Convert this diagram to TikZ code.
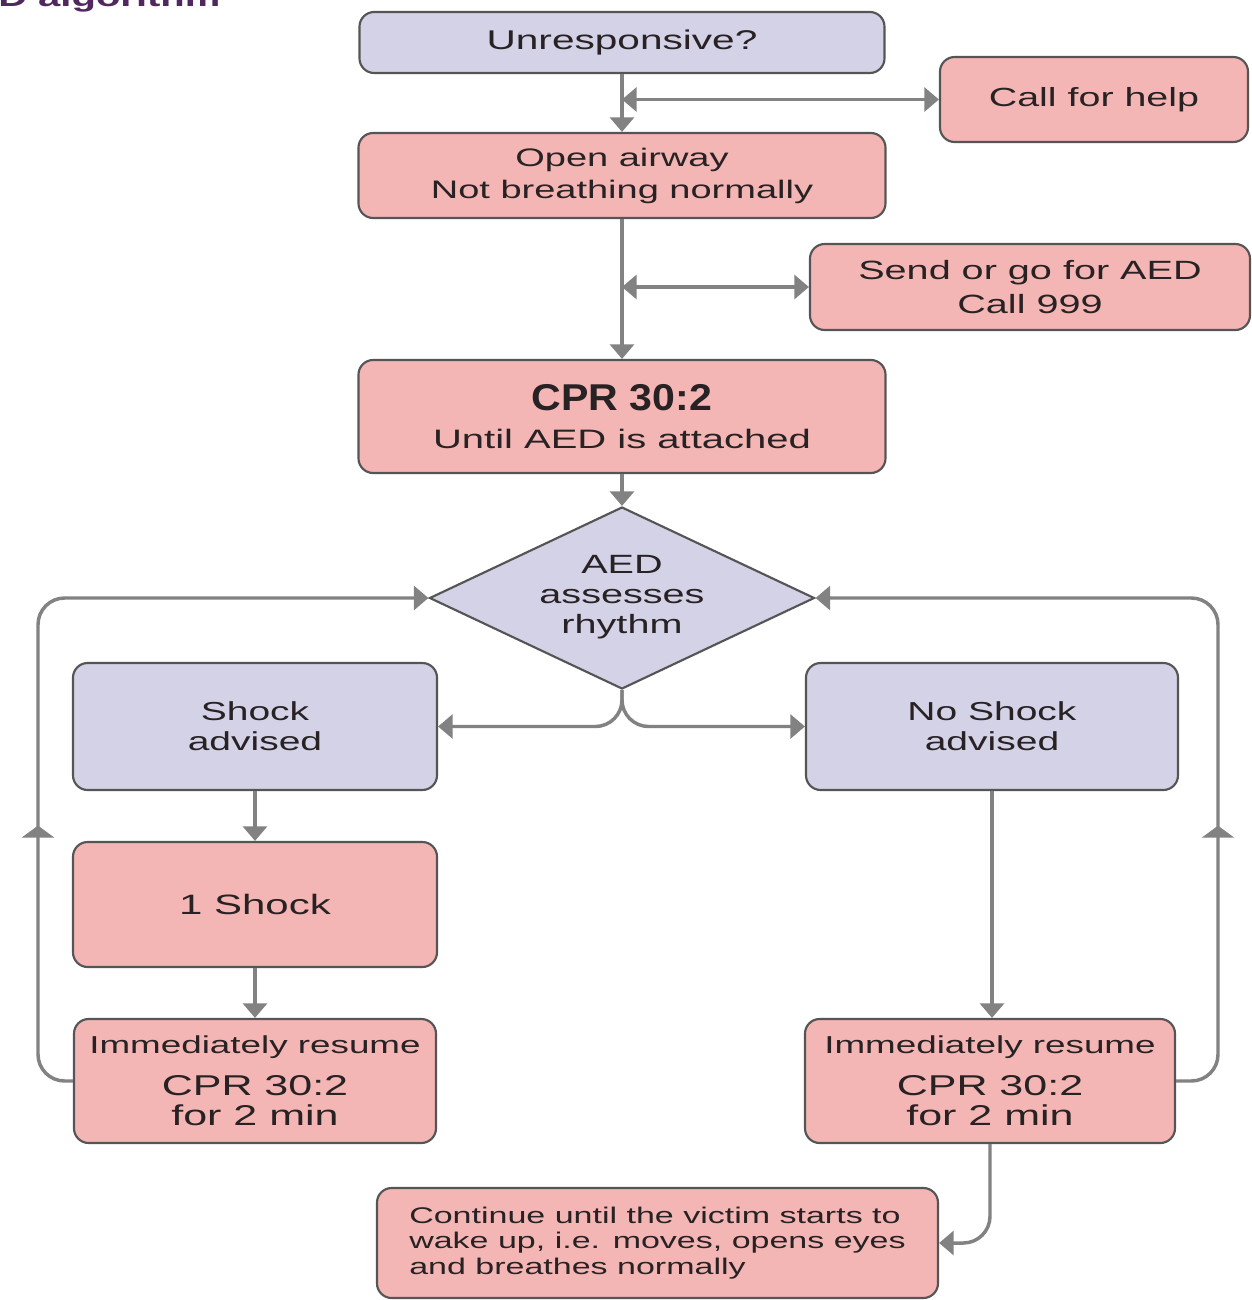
\documentclass[tikz,border=0pt]{standalone}
\usepackage{fontspec}
\setmainfont[FakeStretch=1.5]{Liberation Sans}
\newfontfamily\cprfont[FakeStretch=1.1]{Liberation Sans}
\usetikzlibrary{shapes.geometric,arrows.meta,decorations.markings}
\definecolor{lav}{RGB}{211,210,230}
\definecolor{pinkf}{RGB}{243,182,180}
\definecolor{bord}{RGB}{85,85,85}
\definecolor{lgray}{RGB}{130,130,130}
\definecolor{txt}{RGB}{40,34,36}
\definecolor{titlec}{RGB}{80,40,95}
\newcommand\fsz[2]{\fontsize{#1}{#2}\selectfont}
\begin{document}
\begin{tikzpicture}[x=0.75pt,y=-0.75pt,
  box/.style={draw=bord, line width=1.6pt, rounded corners=11pt, text=txt, align=center, inner sep=0pt},
  lavbox/.style={box, fill=lav},
  pinkbox/.style={box, fill=pinkf},
  wh/.style 2 args={minimum width={#1*0.75pt}, minimum height={#2*0.75pt}},
  conn/.style={draw=lgray, line width=2.6pt},
  arr/.style={conn, -{Triangle[length=11pt,width=18pt]}},
  darr/.style={conn, {Triangle[length=11pt,width=18pt]}-{Triangle[length=11pt,width=18pt]}},
  midup/.style={postaction={decorate}, decoration={markings,
     mark=at position #1 with {\arrow[lgray]{Triangle[length=9pt,width=24pt]}}}}
]
\useasboundingbox (0,0) rectangle (1252,1300);
\fill[white] (0,0) rectangle (1252,1300);

\node[anchor=base west, inner sep=0pt, text=titlec, font=\bfseries\fsz{20}{24}] (title) at (-2,6) {D algorithm};

\node[lavbox, wh={525}{61}, font=\fsz{20.3}{24}] (unr) at (622,42.5) {Unresponsive?};
\node[pinkbox, wh={308}{85}, font=\fsz{19.7}{24}] (help) at (1094,99.5) {Call for help};
\node[pinkbox, wh={527}{85}, font=\fsz{19}{24}] (open) at (622,175.5) {Open airway\\Not breathing normally};
\node[pinkbox, wh={440}{86}, font=\fsz{19.8}{25}] (aed) at (1030,287) {Send or go for AED\\Call 999};
\node[pinkbox, wh={527}{113}, font=\fsz{20}{28}] (cpr) at (622,416.5) {{\cprfont\bfseries\fsz{28}{30}CPR 30:2}\\Until AED is attached};
\node[draw=bord, fill=lav, line width=1.6pt, diamond, minimum width={385*0.75pt}, minimum height={182*0.75pt}, inner sep=0pt] (dia) at (622,598) {};
\node[align=center, text=txt, inner sep=0pt, font=\fsz{19.8}{22.5}] (diat) at (622,597) {AED\\assesses\\rhythm};

\node[lavbox, wh={364}{127}, font=\fsz{19.5}{22.5}] (shock) at (255,726.5) {Shock\\advised};
\node[lavbox, wh={372}{127}, font=\fsz{19.5}{22.5}] (noshock) at (992,726.5) {No Shock\\advised};
\node[pinkbox, wh={364}{125}, font=\fsz{21}{24}] (one) at (255,904.5) {1 Shock};
\node[pinkbox, wh={362}{124}, font=\fsz{21.5}{23}] (resL) at (255,1081) {{\fsz{18.4}{23}Immediately resume}\\[8pt]CPR 30:2\\for 2 min};
\node[pinkbox, wh={370}{124}, font=\fsz{21.5}{23}] (resR) at (990,1081) {{\fsz{18.4}{23}Immediately resume}\\[8pt]CPR 30:2\\for 2 min};
\node[pinkbox, wh={561}{110}, font=\fsz{17}{19}, align=left] (cont) at (657.5,1243) {Continue until the victim starts to\\wake up, i.e. moves, opens eyes\\and breathes normally};

\coordinate (j1) at (unr.south |- help.west);
\coordinate (j2) at (open.south |- aed.west);
\coordinate (lx) at (38,598);
\coordinate (rx) at (1218,598);

\draw[arr] (unr.south) -- (open.north);
\draw[darr] (j1) -- (help.west);
\draw[arr] (open.south) -- (cpr.north);
\draw[darr] (j2) -- (aed.west);
\draw[arr] (cpr.south) -- (dia.north);
\draw[arr, rounded corners=20pt] (dia.south) |- (shock.east);
\draw[arr, rounded corners=20pt] (dia.south) |- (noshock.west);
\draw[arr] (shock.south) -- (one.north);
\draw[arr] (one.south) -- (one.south |- resL.north);
\draw[arr] (noshock.south) -- (noshock.south |- resR.north);
\draw[arr, rounded corners=20pt, midup=0.315] (resL.west) -| (lx) -- (dia.west);
\draw[arr, rounded corners=20pt, midup=0.316] (resR.east) -| (rx) -- (dia.east);
\draw[arr, rounded corners=20pt] (resR.south) |- (cont.east);
\end{tikzpicture}
\end{document}
